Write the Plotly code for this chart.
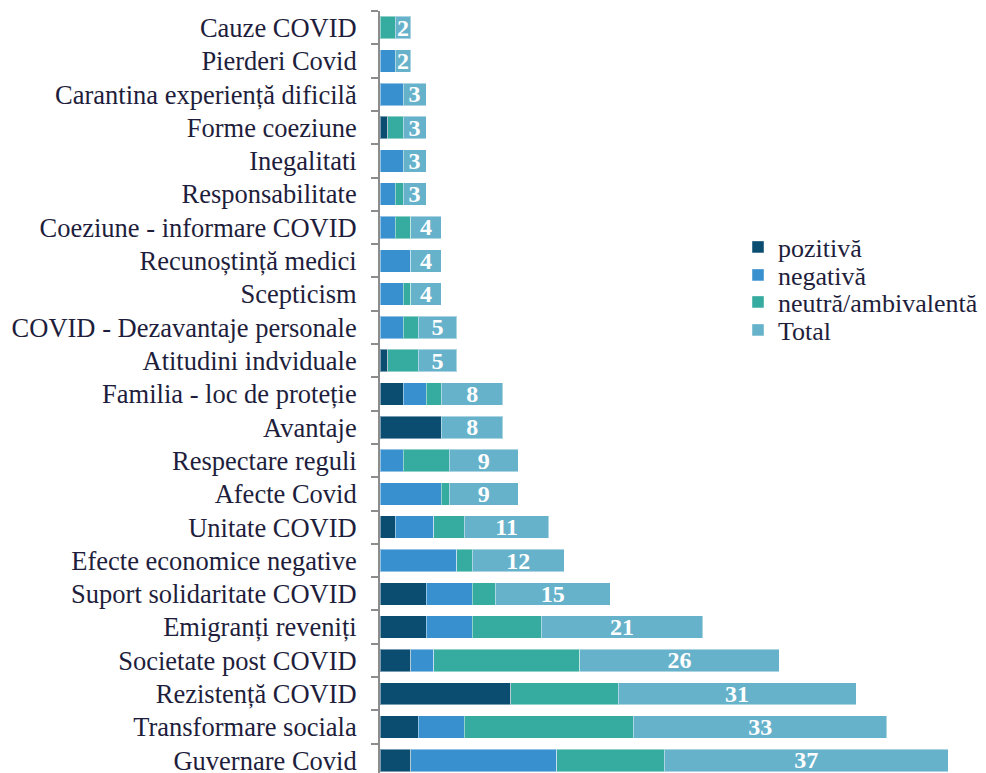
import plotly.graph_objects as go

categories = ["Cauze COVID", "Pierderi Covid", "Carantina experiență dificilă", "Forme coeziune",
              "Inegalitati", "Responsabilitate", "Coeziune - informare COVID", "Recunoștință medici",
              "Scepticism", "COVID - Dezavantaje personale", "Atitudini indviduale",
              "Familia - loc de proteție", "Avantaje", "Respectare reguli", "Afecte Covid",
              "Unitate COVID", "Efecte economice negative", "Suport solidaritate COVID",
              "Emigranți reveniți", "Societate post COVID", "Rezistență COVID",
              "Transformare sociala", "Guvernare Covid"]
pozitiva = [0, 0, 0, 1, 0, 0, 0, 0, 0, 0, 1, 3, 8, 0, 0, 2, 0, 6, 6, 4, 17, 5, 4]
negativa = [0, 2, 3, 0, 3, 2, 2, 4, 3, 3, 0, 3, 0, 3, 8, 5, 10, 6, 6, 3, 0, 6, 19]
neutra = [2, 0, 0, 2, 0, 1, 2, 0, 1, 2, 4, 2, 0, 6, 1, 4, 2, 3, 9, 19, 14, 22, 14]
total = [2, 2, 3, 3, 3, 3, 4, 4, 4, 5, 5, 8, 8, 9, 9, 11, 12, 15, 21, 26, 31, 33, 37]

series_names = ["pozitivă", "negativă", "neutră/ambivalentă", "Total"]
colors = ["#0a4d70", "#3990cf", "#36ab9f", "#67b2cb"]

def nz(vals):
    return [v if v else None for v in vals]

fig = go.Figure()
series = [pozitiva, negativa, neutra, total]
legend_ids = ["legend", "legend2", "legend3", "legend4"]
for i, (name, vals, col) in enumerate(zip(series_names, series, colors)):
    kw = {}
    if name == "Total":
        kw = dict(text=[str(v) for v in vals], textposition="inside", textangle=0,
                  insidetextanchor="middle", constraintext="none",
                  textfont=dict(family="Liberation Serif", size=24, color="white", weight="bold"))
    fig.add_trace(go.Bar(
        y=categories, x=nz(vals), name=name, orientation="h",
        marker=dict(color=col, line=dict(color="rgba(255,255,255,0.45)", width=1)),
        legend=legend_ids[i], hoverinfo="skip", **kw))

plot_top, plot_bot = 11, 773
legend_centers = [247, 275, 302, 330]
layout_legends = {}
for lid, yc in zip(legend_ids, legend_centers):
    layout_legends[lid] = dict(
        x=(738 - 380) / 599, xanchor="left",
        y=1 - (yc - plot_top) / (plot_bot - plot_top), yanchor="middle",
        font=dict(family="Liberation Serif", size=26, color="#1e1e3c"),
        bgcolor="rgba(0,0,0,0)", borderwidth=0, itemwidth=30)

fig.update_layout(
    width=986, height=773,
    margin=dict(l=380, r=7, t=11, b=0),
    barmode="stack", bargap=0.325,
    paper_bgcolor="white", plot_bgcolor="white",
    showlegend=True,
    xaxis=dict(visible=False, range=[0, 78]),
    yaxis=dict(type="category", range=[22.38, -0.5], automargin=False,
               showline=True, linecolor="#8c8c8c", linewidth=2,
               ticks="outside", tickson="boundaries", ticklen=7, tickwidth=2, tickcolor="#8c8c8c",
               ticklabelstandoff=16, showgrid=False, zeroline=False,
               tickfont=dict(family="Liberation Serif", size=26.5, color="#1e1e3c")),
    **layout_legends,
)

fig.write_html("out.html", config={"displayModeBar": False},
               post_script="document.body.style.margin='0';document.body.style.overflow='hidden';")
